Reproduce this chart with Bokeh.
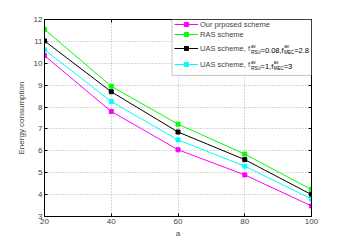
from bokeh.plotting import figure
from bokeh.models import Legend, LegendItem, LinearAxis, FixedTicker, BoxAnnotation, Label
from bokeh.embed import file_html
from bokeh.resources import INLINE

a_values = [20, 40, 60, 80, 100]
proposed = [10.35, 7.8, 6.05, 4.9, 3.48]
ras = [11.55, 8.95, 7.22, 5.85, 4.23]
uas_1 = [11.02, 8.7, 6.86, 5.6, 4.0]
uas_2 = [10.62, 8.25, 6.5, 5.3, 3.8]
x_ticks = [20, 40, 60, 80, 100]
y_ticks = [3, 4, 5, 6, 7, 8, 9, 10, 11, 12]

FONT = "Liberation Sans"
X0, X1, Y0, Y1 = 20, 100, 3, 12

# frame geometry (pixels)
FL, FR, FT, FB = 44, 311, 19, 218
W, H = 335, 240

p = figure(width=W, height=H, x_range=(X0, X1), y_range=(Y0, Y1),
           output_backend="svg", toolbar_location=None,
           min_border_left=FL, min_border_right=W - FR, min_border_top=FT, min_border_bottom=H - FB)
p.outline_line_color = "black"
p.outline_line_width = 1


def dx(px):
    return X0 + (px - FL) * (X1 - X0) / (FR - FL)


def dy(py):
    return Y1 - (py - FT) * (Y1 - Y0) / (FB - FT)


colors = ["#FF00FF", "#00FF00", "#000000", "#00FFFF"]
data = [proposed, ras, uas_1, uas_2]
rends = []
for ys, color in zip(data, colors):
    l = p.line(a_values, ys, line_color=color, line_width=1)
    s = p.scatter(a_values, ys, marker="square", size=4, fill_color=color, line_color=color)
    rends.append([l, s])

# legend frame
box = BoxAnnotation(left=dx(171.5), right=X1, top=Y1, bottom=dy(75.5),
                    fill_color="white", fill_alpha=1, line_color="#404040", line_width=1)
p.add_layout(box)

MAIN = 7.5
SUB = 4.5
GLYPH_L = 174
GLYPH_W = 24
STANDOFF = 2
TEXT_X = GLYPH_L + GLYPH_W + STANDOFF
ROW_H = 10


def make_legend(items, row_y, pitch):
    lg = Legend(items=items)
    lg.label_text_font = FONT
    lg.label_text_font_size = f"{MAIN}px"
    lg.glyph_width = GLYPH_W
    lg.glyph_height = ROW_H
    lg.label_height = ROW_H
    lg.spacing = int(pitch - ROW_H)
    lg.padding = 0
    lg.margin = 0
    lg.label_standoff = STANDOFF
    lg.border_line_color = None
    lg.background_fill_alpha = 0
    n = len(items)
    h = n * ROW_H + (n - 1) * int(pitch - ROW_H)
    lg.location = (GLYPH_L - FL, FB - (row_y - ROW_H / 2) - h)
    return lg


ROWS = [26, 36, 50, 66]
leg_a = make_legend([LegendItem(label="Our prposed scheme", renderers=rends[0]),
                     LegendItem(label="RAS scheme", renderers=rends[1])], ROWS[0], ROWS[1] - ROWS[0])
leg_b = make_legend([LegendItem(label="UAS scheme, f", renderers=rends[2]),
                     LegendItem(label="UAS scheme, f", renderers=rends[3])], ROWS[2], ROWS[3] - ROWS[2])
p.add_layout(leg_a)
p.add_layout(leg_b)

# Arial / Liberation Sans advance widths (per 1000 em)
AW = {' ': 278, ',': 278, '.': 278, '=': 584, 'f': 278, 'a': 556, 'v': 500, 'R': 722, 'S': 667,
      'U': 722, 'M': 833, 'E': 667, 'C': 722, 'A': 667, 'c': 500, 'e': 556, 'h': 556, 'm': 833, 's': 500}
for d in "0123456789":
    AW[d] = 556


def tw(t, size):
    return sum(AW.get(ch, 556) for ch in t) * size / 1000.0


def add_text(t, px, py, size):
    p.add_layout(Label(x=dx(px), y=dy(py), text=t, text_font=FONT, text_font_size=f"{size}px",
                       text_align="left", text_baseline="middle", text_color="black"))


def math_row(row_y, parts):
    x = TEXT_X + tw("UAS scheme, f", MAIN)
    for kind, t in parts:
        if kind == "sub":
            sup_t, sub_t = t
            add_text(sup_t, x + 0.5, row_y - 3.8, SUB)
            add_text(sub_t, x + 0.5, row_y + 2.8, SUB)
            x += 0.5 + max(tw(sup_t, SUB), tw(sub_t, SUB))
        else:
            add_text(t, x, row_y, MAIN)
            x += tw(t, MAIN)


math_row(ROWS[2], [("sub", ("av", "RSU")), ("txt", "=0.08,f"), ("sub", ("av", "MEC")), ("txt", "=2.8")])
math_row(ROWS[3], [("sub", ("av", "RSU")), ("txt", "=1,f"), ("sub", ("av", "MEC")), ("txt", "=3")])

for ax in [p.xaxis[0], p.yaxis[0]]:
    ax.major_label_text_font = FONT
    ax.major_label_text_font_size = "8px"
    ax.axis_label_text_font = FONT
    ax.axis_label_text_font_size = "8px"
    ax.axis_label_text_font_style = "normal"
    ax.major_tick_in = 3
    ax.major_tick_out = 0
    ax.minor_tick_line_color = None
    ax.axis_line_color = "black"
    ax.major_label_standoff = 2
p.xaxis.axis_label_standoff = 2
p.yaxis.axis_label_standoff = 5

p.xaxis.ticker = FixedTicker(ticks=x_ticks)
p.yaxis.ticker = FixedTicker(ticks=y_ticks)
p.xaxis.axis_label = "a"
p.yaxis.axis_label = "Energy consumption"

for loc in ["right", "above"]:
    ax = LinearAxis(ticker=FixedTicker(ticks=x_ticks if loc == "above" else y_ticks))
    ax.major_label_text_font_size = "0px"
    ax.major_label_text_color = None
    ax.major_tick_in = 3
    ax.major_tick_out = 0
    ax.minor_tick_line_color = None
    p.add_layout(ax, loc)

p.xgrid.ticker = FixedTicker(ticks=x_ticks)
p.ygrid.ticker = FixedTicker(ticks=y_ticks)
for g in [p.xgrid[0], p.ygrid[0]]:
    g.grid_line_color = "#B0B0B0"
    g.grid_line_dash = "1 2"
    g.grid_line_width = 1

open("out.html", "w").write(file_html(p, INLINE))
